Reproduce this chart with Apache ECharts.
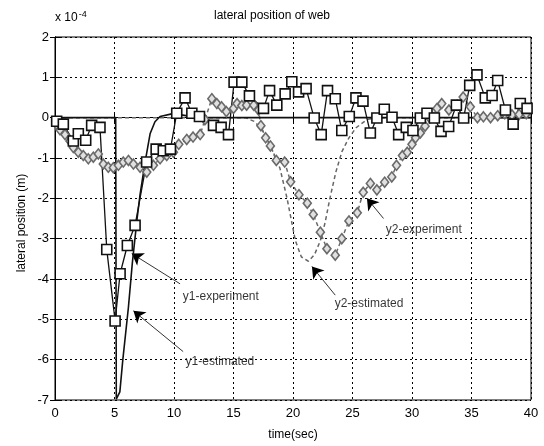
<!DOCTYPE html>
<html>
<head>
<meta charset="utf-8">
<script src="https://cdn.jsdelivr.net/npm/echarts@6/dist/echarts.min.js"></script>
<style>
  html, body { margin: 0; padding: 0; background: #fff; }
  #chart { width: 544px; height: 446px; }
</style>
</head>
<body>
<div id="chart"></div>
<script>
// time (s), lateral position (x 1e-4 m)
const y1Estimated = [
  [0, 0], [5.1, 0], [5.15, -6.98], [5.45, -6.8], [5.7, -6.0], [6.17, -4.7], [6.5, -3.6],
  [6.9, -2.5], [7.15, -1.9], [7.57, -1.1], [7.99, -0.4], [8.4, -0.1], [8.83, 0.03],
  [9.9, 0.1], [11, 0.05], [12, 0], [40, 0]
];
const y1Experiment = [
  [0.14, -0.09], [0.7, -0.16], [1.54, -0.58], [1.96, -0.4], [2.58, -0.56], [3.08, -0.19],
  [3.78, -0.24], [4.35, -3.27], [5.05, -5.04], [5.47, -3.87], [6.08, -3.17], [6.73, -2.67],
  [7.7, -1.1], [8.5, -0.78], [9.1, -0.82], [9.7, -0.78], [10.23, 0.11], [10.93, 0.49],
  [11.5, 0.11], [12.14, 0.03], [13.32, -0.19], [13.96, -0.24], [14.58, -0.42], [15.05, 0.88],
  [15.7, 0.88], [16.34, 0.54], [17.52, 0.23], [18.03, 0.67], [18.64, 0.31], [19.34, 0.59],
  [19.9, 0.89], [20.47, 0.64], [21.1, 0.72], [21.78, -0.01], [22.37, -0.42], [22.9, 0.67],
  [23.55, 0.47], [24.1, -0.32], [24.73, 0.03], [25.29, 0.49], [25.88, 0.41], [26.5, -0.38],
  [27.05, -0.01], [27.67, 0.21], [28.32, 0.01], [28.88, -0.42], [29.52, -0.24], [30.08, -0.32],
  [30.7, -0.01], [31.26, 0.11], [31.88, -0.01], [32.44, -0.34], [33.08, -0.22], [33.73, 0.31],
  [34.34, -0.01], [34.85, 0.8], [35.46, 1.06], [36.16, 0.49], [36.73, 0.55], [37.2, 0.92],
  [37.85, 0.19], [38.5, -0.16], [39.1, 0.35], [39.67, 0.23]
];
const y2Estimated = [
  [0, 0], [16, 0], [16.8, -0.1], [17.5, -0.35], [18.2, -0.75], [18.9, -1.25], [19.5, -2.0],
  [20.2, -3.05], [20.7, -3.45], [21.3, -3.56], [21.8, -3.4], [22.3, -3.05], [22.7, -2.6],
  [23.1, -2.0], [23.6, -1.35], [24.1, -0.85], [24.7, -0.5], [25.3, -0.25], [26.2, -0.05],
  [27, 0], [40, 0]
];
const y2Experiment = [
  [0.14, -0.17], [0.42, -0.3], [0.84, -0.42], [1.26, -0.58], [1.54, -0.74], [1.96, -0.86],
  [2.38, -0.94], [2.8, -1.02], [3.22, -0.98], [3.64, -0.9], [4.06, -1.15], [4.48, -1.23],
  [4.9, -1.24], [5.33, -1.18], [5.74, -1.1], [6.17, -1.06], [6.59, -1.15], [7.15, -1.23],
  [7.71, -1.35], [8.27, -1.18], [8.83, -1.02], [9.39, -0.94], [9.95, -0.86], [10.4, -0.66],
  [11.07, -0.54], [11.6, -0.48], [12.2, -0.42], [12.6, -0.05], [13.18, 0.47], [13.6, 0.35],
  [14.0, 0.27], [14.4, 0.15], [15.0, 0.23], [15.3, 0.35], [15.7, 0.3], [16.1, 0.31],
  [16.7, 0.31], [17.1, 0.19], [17.3, -0.2], [17.7, -0.5], [18.1, -0.7], [18.6, -1.06],
  [19.3, -1.1], [19.8, -1.59], [20.5, -1.91], [21.2, -2.12], [21.7, -2.4], [22.3, -2.84],
  [22.85, -3.25], [23.55, -3.41], [24.1, -3.0], [24.7, -2.56], [25.4, -2.36], [25.9, -1.85],
  [26.5, -1.63], [27.05, -1.79], [27.7, -1.6], [28.3, -1.47], [28.7, -1.18], [29.2, -0.94],
  [29.6, -0.86], [30.0, -0.66], [30.3, -0.5], [30.7, -0.38], [31.1, -0.21], [31.5, -0.01],
  [32.1, 0.23], [32.5, 0.35], [33.1, 0.19], [33.8, 0.31], [34.3, 0.51], [34.9, 0.27],
  [35.5, 0.0], [36.0, 0.02], [36.6, 0.0], [37.2, 0.05], [37.8, 0.1], [38.4, 0.07],
  [39.0, 0.08], [39.6, 0.1]
];

// annotations: label text + anchor, arrows from label to curve
const noteLabels = [
  ['y1-experiment', 10.7, -4.45],
  ['y1-estimated', 10.93, -6.05],
  ['y2-estimated', 23.46, -4.62],
  ['y2-experiment', 27.75, -2.78]
];
const noteArrows = [
  [[10.51, -4.12], [6.45, -3.37]],
  [[10.77, -5.8], [6.59, -4.79]],
  [[23.55, -4.4], [21.59, -3.69]],
  [[27.61, -2.5], [26.21, -2.0]]
];

const font = "'Liberation Sans', Arial, sans-serif";
const chart = echarts.init(document.getElementById('chart'));

const gridDots = { show: true, lineStyle: { color: '#000', width: 1, type: [2, 3] } };
const tickIn = { show: true, inside: true, length: 5, lineStyle: { color: '#000' } };

chart.setOption({
  backgroundColor: '#fff',
  animation: false,
  title: {
    text: 'lateral position of web',
    left: 'center',
    top: 5,
    textStyle: { fontFamily: font, fontSize: 12, fontWeight: 'normal', color: '#000' }
  },
  grid: { left: 55, right: 13, top: 37, bottom: 39, show: true, borderColor: '#000', borderWidth: 1 },
  xAxis: [
    {
      type: 'value', min: 0, max: 40, interval: 5,
      name: 'time(sec)', nameLocation: 'middle', nameGap: 29,
      nameTextStyle: { fontFamily: font, fontSize: 12, color: '#000' },
      axisLine: { show: true, lineStyle: { color: '#000' } },
      axisTick: tickIn,
      axisLabel: { fontFamily: font, fontSize: 13, color: '#000', margin: 7 },
      splitLine: gridDots
    },
    {
      type: 'value', min: 0, max: 40, interval: 5, position: 'top',
      axisLine: { show: true, lineStyle: { color: '#000' } },
      axisTick: tickIn, axisLabel: { show: false }, splitLine: { show: false }
    }
  ],
  yAxis: [
    {
      type: 'value', min: -7, max: 2, interval: 1,
      name: '{a|x 10}{b|-4}', nameLocation: 'end', nameGap: 12,
      nameTextStyle: {
        align: 'left',
        rich: {
          a: { fontFamily: font, fontSize: 12, color: '#000' },
          b: { fontFamily: font, fontSize: 9, color: '#000', verticalAlign: 'top', padding: [0, 0, 6, 1] }
        }
      },
      axisLine: { show: true, lineStyle: { color: '#000' } },
      axisTick: tickIn,
      axisLabel: { fontFamily: font, fontSize: 13, color: '#000', margin: 6 },
      splitLine: gridDots
    },
    {
      type: 'value', min: -7, max: 2, interval: 1, position: 'right',
      axisLine: { show: true, lineStyle: { color: '#000' } },
      axisTick: tickIn, axisLabel: { show: false }, splitLine: { show: false }
    }
  ],
  graphic: [{
    type: 'text', left: 16, top: 'middle', rotation: Math.PI / 2,
    style: { text: 'lateral position (m)', font: '12px ' + font, fill: '#000' }
  }],
  series: [
    {
      name: 'y2-estimated', type: 'line', data: y2Estimated, showSymbol: false,
      lineStyle: { color: '#666', width: 1.5, type: [4, 3] }
    },
    {
      name: 'y2-experiment', type: 'line', data: y2Experiment,
      symbol: 'diamond', symbolSize: [8, 10],
      itemStyle: { color: '#e0e0e0', borderColor: '#6a6a6a', borderWidth: 1.6 },
      lineStyle: { color: '#6a6a6a', width: 1.5, type: [4, 3] }
    },
    {
      name: 'y1-estimated', type: 'line', data: y1Estimated, showSymbol: false,
      lineStyle: { color: '#111', width: 1.6 }
    },
    {
      name: 'y1-experiment', type: 'line', data: y1Experiment,
      symbol: 'rect', symbolSize: 10,
      itemStyle: { color: '#fff', borderColor: '#111', borderWidth: 1.6 },
      lineStyle: { color: '#111', width: 1.3 }
    },
    {
      type: 'lines', coordinateSystem: 'cartesian2d', silent: true,
      symbol: ['none', 'arrow'], symbolSize: [0, 11],
      lineStyle: { color: '#000', width: 0.8, opacity: 1 },
      data: noteArrows.map(c => ({ coords: c }))
    },
    {
      type: 'scatter', silent: true, symbolSize: 1,
      itemStyle: { color: 'rgba(0,0,0,0)' },
      label: {
        show: true, position: 'right', distance: 0, formatter: p => p.name,
        fontFamily: font, fontSize: 12, color: '#000'
      },
      data: noteLabels.map(n => ({ name: n[0], value: [n[1], n[2]] }))
    }
  ]
});
</script>
</body>
</html>
